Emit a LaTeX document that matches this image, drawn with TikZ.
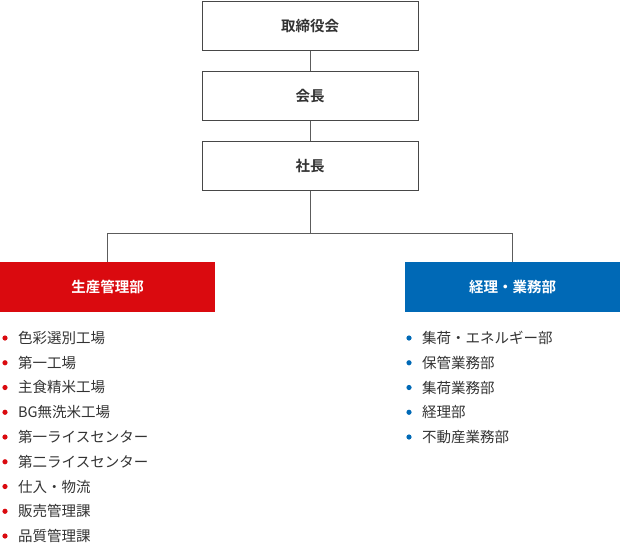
\documentclass[tikz,border=0pt]{standalone}
\usepackage{fontspec}
\setmainfont{Noto Sans CJK JP}
\newfontfamily\jpbold{Noto Sans CJK JP Bold}
\definecolor{redc}{HTML}{DA0A0F}
\definecolor{bluec}{HTML}{0069B6}
\definecolor{txt}{HTML}{333333}
\begin{document}
\begin{tikzpicture}[x=1pt,y=-1pt,
  topbox/.style={draw=txt!90,line width=0.8pt,minimum width=216pt,minimum height=49pt,inner sep=0pt,font=\jpbold\fontsize{14.5}{16}\selectfont,text=txt},
  deptbox/.style={minimum width=215pt,minimum height=50pt,inner sep=0pt,font=\jpbold\fontsize{14.5}{16}\selectfont,text=white},
  item/.style={anchor=west,inner sep=0pt,font=\fontsize{14.5}{16}\selectfont,text=txt},
  conn/.style={draw=txt!80,line width=0.8pt}]
\useasboundingbox (0,0) rectangle (620,544);
\node[topbox] (board) at (310,26) {取締役会};
\node[topbox] (chair) at (310,96) {会長};
\node[topbox] (pres) at (310,166) {社長};
\node[deptbox,fill=redc] (prod) at (107.5,287) {生産管理部};
\node[deptbox,fill=bluec] (acct) at (512.5,287) {経理・業務部};
\coordinate (j) at (310,233);
\draw[conn] (board) -- (chair);
\draw[conn] (chair) -- (pres);
\draw[conn] (pres) -- (j);
\draw[conn] (prod.north) -- (prod.north |- j) -- (acct.north |- j) -- (acct.north);
\foreach \t [count=\i] in {色彩選別工場,第一工場,主食精米工場,BG無洗米工場,第一ライスセンター,第二ライスセンター,仕入・物流,販売管理課,品質管理課}{
  \fill[redc] (5,{338+(\i-1)*24.75}) circle (2.6pt);
  \node[item] (l\i) at (18,{338+(\i-1)*24.75}) {\t};
}
\foreach \t [count=\i] in {集荷・エネルギー部,保管業務部,集荷業務部,経理部,不動産業務部}{
  \fill[bluec] (409,{338+(\i-1)*24.75}) circle (2.6pt);
  \node[item] (r\i) at (422,{338+(\i-1)*24.75}) {\t};
}
\end{tikzpicture}
\end{document}
